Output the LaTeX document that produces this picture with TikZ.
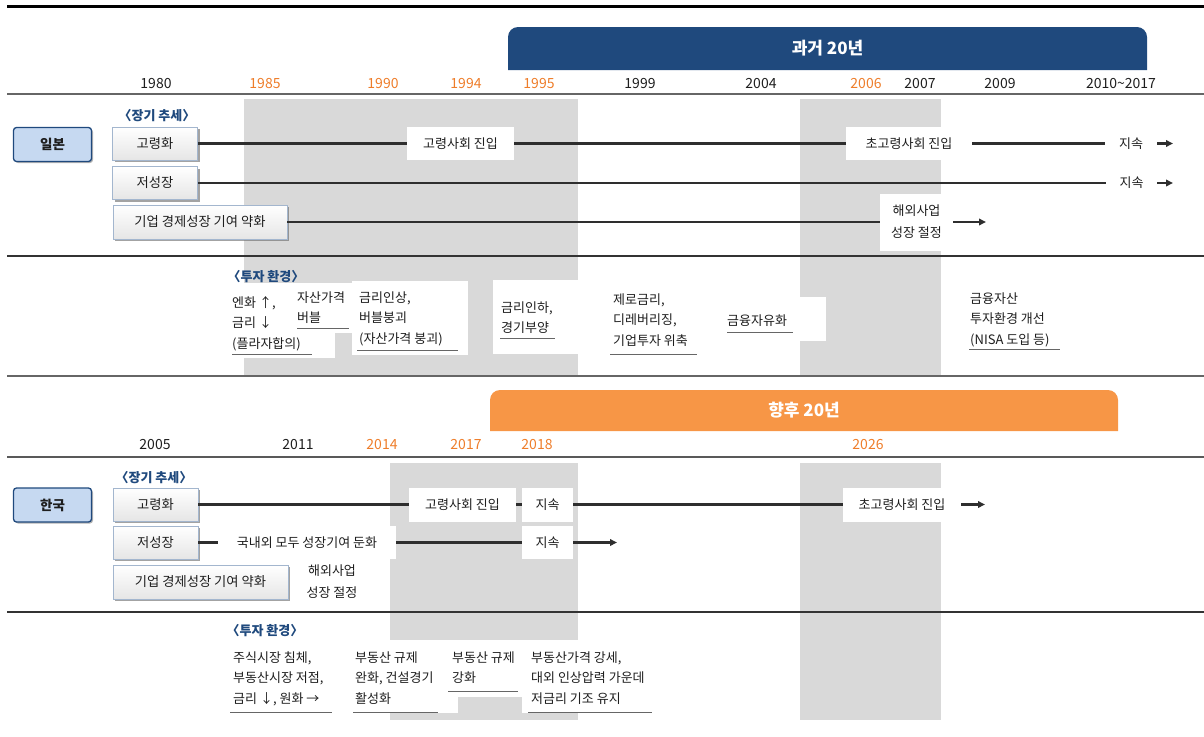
\documentclass[tikz,border=0pt]{standalone}
\usepackage{fontspec}
\setmainfont{Noto Sans CJK KR}
\usetikzlibrary{arrows.meta,shadows}
\definecolor{navy}{HTML}{1F497D}
\definecolor{orng}{HTML}{F79646}
\definecolor{yrorange}{HTML}{EE7D2A}
\definecolor{stripe}{HTML}{D9D9D9}
\definecolor{lightblue}{HTML}{C6D9F1}
\definecolor{boxedge}{HTML}{A3B6CE}
\definecolor{ink}{HTML}{1E1E1E}
\newcommand\fsz[2]{\fontsize{#1}{#2}\selectfont}
\begin{document}
\begin{tikzpicture}[x=1pt,y=-1pt,
  yr/.style={font=\fsz{14}{16}, text=ink, inner sep=0pt},
  yro/.style={yr, text=yrorange},
  sect/.style={font=\bfseries\fsz{13}{15}, text=navy, inner sep=0pt},
  country/.style={draw=navy, line width=1.3pt, fill=lightblue, rounded corners=3pt,
    minimum width=78pt, minimum height=34pt, inner sep=0pt, font=\bfseries\fsz{13.5}{15}, text=ink,
    drop shadow={shadow xshift=1.5pt, shadow yshift=-1.5pt, fill=black!50, opacity=.6}},
  trendbox/.style={draw=boxedge, line width=0.8pt, top color=white, bottom color=black!10,
    minimum width=85pt, minimum height=33pt, inner sep=0pt, font=\fsz{13.3}{15}, text=ink,
    drop shadow={shadow xshift=2pt, shadow yshift=-2pt, fill=black!60, opacity=.6}},
  lbl/.style={fill=white, inner sep=0pt, minimum height=33pt, font=\fsz{13}{22}, text=ink, align=center},
  inv/.style={font=\fsz{13}{20.7}, text=ink, inner sep=0pt, align=left, anchor=base west},
  conn/.style={line width=2.3pt, draw=black!82},
  arr/.style={conn, -{Triangle[length=7pt,width=6.5pt]}},
  uline/.style={line width=1pt, draw=black!60},
  banner/.style={font=\bfseries\fsz{17}{19}, text=white, inner sep=0pt}
]
\useasboundingbox (0,0) rectangle (1204,736);

% ---------- gray stripes ----------
\fill[stripe] (244,99) rectangle (578,376);
\fill[stripe] (800,99) rectangle (941,376);
\fill[stripe] (390,463) rectangle (578,720);
\fill[stripe] (800,463) rectangle (941,720);

% white blocks in the investment rows (top)
\fill[white] (225,283) rectangle (335,358);
\fill[white] (290,283) rectangle (352,333);
\fill[white] (352,281) rectangle (468,355);
\fill[white] (493,280) rectangle (585,354);
\fill[white] (712,297) rectangle (826,341);
% white blocks in the investment rows (bottom)
\fill[white] (225,640) rectangle (680,713);
\fill[stripe] (458,697) rectangle (522,720);

% ---------- rules ----------
\draw[line width=3pt, black] (7,6) -- (1204,6);
\draw[line width=1.6pt, black!60] (7,94) -- (1204,94);
\draw[line width=1.6pt, black!80] (7,256) -- (1204,256);
\draw[line width=2.6pt, black!60] (7,376) -- (1204,376);
\draw[line width=1.6pt, black!65] (7,457) -- (1204,457);
\draw[line width=1.6pt, black!80] (7,612) -- (1204,612);

% ---------- banners ----------
\fill[navy] (508,70) [rounded corners=10pt] -- (508,27) -- (1147,27) [sharp corners] -- (1147,70) -- cycle;
\node[banner] (past) at (827.5,48.5) {과거 20년};
\fill[orng] (490,431) [rounded corners=10pt] -- (490,390) -- (1118,390) [sharp corners] -- (1118,431) -- cycle;
\node[banner] (future) at (804,410.5) {향후 20년};

% ---------- years (top) ----------
\node[yr]  (y1980) at (156,84) {1980};
\node[yro] (y1985) at (265,84) {1985};
\node[yro] (y1990) at (383,84) {1990};
\node[yro] (y1994) at (466,84) {1994};
\node[yro] (y1995) at (539,84) {1995};
\node[yr]  (y1999) at (640,84) {1999};
\node[yr]  (y2004) at (761,84) {2004};
\node[yro] (y2006) at (866,84) {2006};
\node[yr]  (y2007) at (920,84) {2007};
\node[yr]  (y2009) at (1000,84) {2009};
\node[yr]  (y2010) at (1121,84) {2010\textasciitilde2017};

% ---------- years (bottom) ----------
\node[yr]  (y2005) at (155,445) {2005};
\node[yr]  (y2011) at (298,445) {2011};
\node[yro] (y2014) at (382,445) {2014};
\node[yro] (y2017) at (466,445) {2017};
\node[yro] (y2018) at (537,445) {2018};
\node[yro] (y2026) at (868,445) {2026};

% ---------- Japan: long-term trend ----------
\node[sect] (jpsect) at (157,115.5) {〈장기 추세〉};
\node[country] (jp) at (52.5,144.5) {일본};
\node[trendbox] (jp1) at (155,143.5) {고령화};
\node[trendbox] (jp2) at (155,183) {저성장};
\node[trendbox, minimum width=174pt, minimum height=34pt] (jp3) at (200,222) {기업 경제성장 기여 약화};

\node[lbl, minimum width=107pt] (jp1a) at (460.5,143.5) {고령사회 진입};
\node[lbl, minimum width=126pt] (jp1b) at (909,143.5) {초고령사회 진입};
\node[lbl, minimum width=52pt, minimum height=32pt] (jp1c) at (1131,143.5) {지속};
\coordinate (jp1e) at (1173,143.5);
\draw[conn] (jp1) -- (jp1a);
\draw[conn] (jp1a) -- (jp1b);
\draw[conn] (jp1b) -- (jp1c);
\draw[arr] (jp1c) -- (jp1e);

\node[lbl, minimum width=51pt, minimum height=32pt] (jp2c) at (1131.5,183) {지속};
\coordinate (jp2e) at (1173,183);
\draw[conn] (jp2) -- (jp2c);
\draw[arr] (jp2c) -- (jp2e);

\node[lbl, minimum width=73pt, minimum height=57pt] (jp3a) at (916.5,222) {해외사업\\성장 절정};
\coordinate (jp3e) at (986,222);
\draw[conn] (jp3) -- (jp3a);
\draw[arr] (jp3a) -- (jp3e);

% ---------- Japan: investment environment ----------
\node[sect] (jpinv) at (266,277) {〈투자 환경〉};
\node[inv] (ji1) at (232,348.4) {엔화 ↑,\\금리 ↓\\(플라자합의)};
\node[inv] (ji2) at (297,322.7) {자산가격\\버블};
\node[inv] (ji3) at (359,343.4) {금리인상,\\버블붕괴\\(자산가격 붕괴)};
\node[inv] (ji4) at (501,332.7) {금리인하,\\경기부양};
\node[inv] (ji5) at (613,345.4) {제로금리,\\디레버리징,\\기업투자 위축};
\node[inv] (ji6) at (727,325) {금융자유화};
\node[inv] (ji7) at (970,344.4) {금융자산\\투자환경 개선\\(NISA 도입 등)};
\draw[uline] (232,354) -- (312,354);
\draw[uline] (297,328) -- (349,328);
\draw[uline] (357,350) -- (458,350);
\draw[uline] (500,338) -- (555,338);
\draw[uline] (610,354) -- (697,354);
\draw[uline] (727,332) -- (793,332);
\draw[uline] (969,349) -- (1060,349);

% ---------- Korea: long-term trend ----------
\node[sect] (krsect) at (154,478) {〈장기 추세〉};
\node[country] (kr) at (52.5,505) {한국};
\node[trendbox] (kr1) at (155.5,504.5) {고령화};
\node[trendbox] (kr2) at (155.5,542.5) {저성장};
\node[trendbox, minimum width=175pt, minimum height=34pt] (kr3) at (200.5,582) {기업 경제성장 기여 약화};
\node[lbl, minimum width=60pt, minimum height=48pt] (kr3a) at (332,581.5) {해외사업\\성장 절정};

\node[lbl, minimum width=107pt, minimum height=34pt] (kr1a) at (462.5,504.5) {고령사회 진입};
\node[lbl, minimum width=51pt, minimum height=34pt] (kr1b) at (547.5,504.5) {지속};
\node[lbl, minimum width=118pt, minimum height=34pt] (kr1c) at (902,504.5) {초고령사회 진입};
\coordinate (kr1e) at (985,504.5);
\draw[conn] (kr1) -- (kr1a);
\draw[conn] (kr1a) -- (kr1b);
\draw[conn] (kr1b) -- (kr1c);
\draw[arr] (kr1c) -- (kr1e);

\node[lbl, minimum width=178pt, minimum height=33pt] (kr2a) at (307,542.5) {국내외 모두 성장기여 둔화};
\node[lbl, minimum width=51pt, minimum height=33pt] (kr2b) at (547.5,542.5) {지속};
\coordinate (kr2e) at (617,542.5);
\draw[conn] (kr2) -- (kr2a);
\draw[conn] (kr2a) -- (kr2b);
\draw[arr] (kr2b) -- (kr2e);

% ---------- Korea: investment environment ----------
\node[sect] (krinv) at (265,631) {〈투자 환경〉};
\node[inv] (ki1) at (233,703.4) {주식시장 침체,\\부동산시장 저점,\\금리 ↓, 원화 →};
\node[inv] (ki2) at (355,703.4) {부동산 규제\\완화, 건설경기\\활성화};
\node[inv] (ki3) at (452,682.7) {부동산 규제\\강화};
\node[inv] (ki4) at (531,703.4) {부동산가격 강세,\\대외 인상압력 가운데\\저금리 기조 유지};
\draw[uline] (230,712) -- (332,712);
\draw[uline] (353,712) -- (438,712);
\draw[uline] (448,691) -- (518,691);
\draw[uline] (528,712) -- (652,712);
\end{tikzpicture}
\end{document}
